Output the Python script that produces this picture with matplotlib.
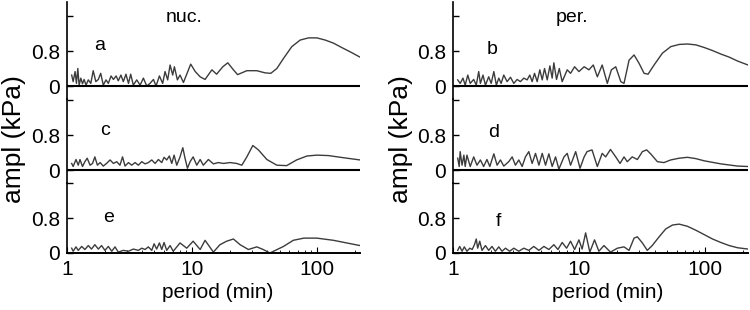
import numpy as np
import matplotlib
matplotlib.use("Agg")
import matplotlib.pyplot as plt
from matplotlib.ticker import LogLocator, NullFormatter, FixedLocator

plt.rcParams['font.family'] = ['Liberation Sans', 'DejaVu Sans']

# ---- data: period (min) and amplitude (kPa) ----
per_a = [1.09, 1.12, 1.16, 1.19, 1.22, 1.25, 1.29, 1.33, 1.37, 1.42, 1.48, 1.55, 1.62, 1.70,
         1.78, 1.86, 1.95, 2.05, 2.14, 2.25, 2.35, 2.47, 2.57, 2.70, 2.82, 2.96, 3.10, 3.23,
         3.39, 3.61, 3.84, 4.08, 4.34, 4.61, 4.91, 5.15, 5.48, 5.82, 6.08, 6.38, 6.67, 7.00,
         7.22, 7.63, 8.01, 8.53, 9.75, 10.6, 11.6, 12.7, 14.4, 15.7, 17.6, 19.3, 21.4, 23.1,
         27.4, 32.9, 38.4, 42.6, 47.6, 53.8, 62.7, 73.1, 85.3, 99.4, 116, 135, 157, 184, 220]
amp_a = [0.25, 0.10, 0.33, 0.06, 0.40, 0.02, 0.18, 0.05, 0.15, 0.02, 0.14, 0.06, 0.35, 0.10,
         0.15, 0.29, 0.02, 0.14, 0.06, 0.23, 0.15, 0.23, 0.12, 0.25, 0.10, 0.27, 0.06, 0.27,
         0.02, 0.14, 0.02, 0.18, 0.00, 0.06, 0.15, 0.00, 0.23, 0.06, 0.33, 0.14, 0.48, 0.25,
         0.44, 0.14, 0.25, 0.08, 0.50, 0.33, 0.21, 0.15, 0.37, 0.27, 0.44, 0.53, 0.37, 0.26,
         0.35, 0.35, 0.30, 0.29, 0.40, 0.63, 0.90, 1.05, 1.10, 1.10, 1.05, 0.98, 0.88, 0.78, 0.66]

per_c = [1.09, 1.12, 1.18, 1.23, 1.27, 1.33, 1.39, 1.45, 1.53, 1.60, 1.67, 1.75, 1.84, 1.95,
         2.07, 2.21, 2.35, 2.50, 2.65, 2.78, 2.91, 3.10, 3.29, 3.50, 3.72, 3.96, 4.21, 4.47,
         4.76, 5.06, 5.38, 5.72, 5.97, 6.27, 6.58, 6.88, 7.18, 7.54, 8.01, 8.43, 8.78, 9.18,
         9.64, 10.2, 10.9, 11.6, 12.3, 13.5, 14.8, 16.2, 17.8, 20.1, 22.7, 25.0, 27.4, 30.6,
         33.9, 39.6, 47.6, 57.0, 68.5, 82.8, 99.4, 123, 163, 220]
amp_c = [0.15, 0.08, 0.24, 0.11, 0.24, 0.08, 0.19, 0.27, 0.11, 0.15, 0.30, 0.11, 0.17, 0.09,
         0.15, 0.23, 0.15, 0.19, 0.11, 0.30, 0.09, 0.17, 0.11, 0.17, 0.11, 0.19, 0.14, 0.17,
         0.23, 0.15, 0.24, 0.17, 0.29, 0.23, 0.32, 0.15, 0.34, 0.11, 0.30, 0.51, 0.27, 0.04,
         0.19, 0.30, 0.11, 0.24, 0.11, 0.24, 0.14, 0.17, 0.15, 0.17, 0.15, 0.11, 0.30, 0.56,
         0.46, 0.24, 0.11, 0.10, 0.23, 0.32, 0.34, 0.33, 0.28, 0.23]

per_e = [1.09, 1.12, 1.18, 1.23, 1.31, 1.39, 1.48, 1.57, 1.67, 1.78, 1.89, 2.01, 2.14, 2.28,
         2.42, 2.57, 2.82, 3.10, 3.39, 3.72, 3.96, 4.21, 4.47, 4.76, 4.97, 5.21, 5.48, 5.72,
         5.97, 6.27, 6.67, 7.07, 8.01, 9.06, 10.2, 11.6, 12.7, 14.8, 16.7, 18.9, 21.4, 24.2,
         28.2, 32.9, 37.0, 41.9, 53.8, 64.4, 78.3, 99.4, 135, 172, 220]
amp_e = [0.11, 0.04, 0.14, 0.06, 0.15, 0.08, 0.17, 0.09, 0.19, 0.09, 0.17, 0.06, 0.15, 0.04,
         0.14, 0.02, 0.06, 0.04, 0.09, 0.06, 0.11, 0.08, 0.14, 0.06, 0.21, 0.09, 0.23, 0.08,
         0.24, 0.06, 0.17, 0.04, 0.23, 0.11, 0.27, 0.08, 0.29, 0.02, 0.19, 0.27, 0.32, 0.19,
         0.08, 0.14, 0.08, 0.00, 0.15, 0.29, 0.34, 0.34, 0.29, 0.23, 0.17]

per_b = [1.09, 1.14, 1.20, 1.25, 1.31, 1.37, 1.46, 1.53, 1.60, 1.65, 1.73, 1.81, 1.92, 2.01,
         2.11, 2.21, 2.31, 2.41, 2.53, 2.69, 2.86, 3.04, 3.23, 3.43, 3.65, 3.88, 4.07, 4.25,
         4.44, 4.66, 4.89, 5.11, 5.33, 5.60, 5.88, 6.13, 6.32, 6.64, 6.98, 7.36, 8.07, 8.58,
         9.24, 10.0, 11.0, 12.0, 13.0, 14.0, 15.3, 16.8, 18.1, 19.6, 21.5, 22.8, 25.0, 27.4,
         30.0, 32.9, 35.4, 39.5, 46.0, 53.6, 62.5, 72.8, 84.8, 98.8, 115, 134, 156, 182, 220]
amp_b = [0.14, 0.06, 0.18, 0.02, 0.25, 0.06, 0.15, 0.02, 0.33, 0.06, 0.25, 0.02, 0.21, 0.06,
         0.33, 0.02, 0.18, 0.06, 0.25, 0.10, 0.20, 0.06, 0.15, 0.10, 0.18, 0.14, 0.25, 0.10,
         0.29, 0.10, 0.37, 0.14, 0.40, 0.14, 0.46, 0.18, 0.53, 0.15, 0.40, 0.10, 0.37, 0.29,
         0.44, 0.33, 0.44, 0.37, 0.48, 0.21, 0.48, 0.06, 0.37, 0.44, 0.10, 0.06, 0.59, 0.71,
         0.52, 0.29, 0.27, 0.48, 0.75, 0.90, 0.95, 0.96, 0.94, 0.88, 0.81, 0.73, 0.66, 0.57, 0.48]

per_d = [1.09, 1.12, 1.14, 1.18, 1.22, 1.25, 1.29, 1.37, 1.46, 1.55, 1.65, 1.75, 1.86, 1.96,
         2.11, 2.24, 2.38, 2.53, 2.77, 2.95, 3.13, 3.33, 3.54, 3.76, 4.00, 4.25, 4.52, 4.81,
         5.11, 5.43, 5.77, 6.13, 6.52, 6.93, 7.61, 8.07, 8.58, 9.42, 10.2, 11.0, 11.6, 12.7,
         14.0, 15.3, 16.3, 17.8, 19.6, 21.2, 22.8, 24.2, 26.5, 29.1, 31.9, 34.5, 37.1, 42.0,
         47.3, 53.6, 62.5, 72.8, 84.8, 98.8, 134, 182, 220]
amp_d = [0.27, 0.08, 0.42, 0.11, 0.34, 0.08, 0.34, 0.08, 0.30, 0.11, 0.23, 0.08, 0.24, 0.08,
         0.37, 0.11, 0.23, 0.09, 0.19, 0.30, 0.11, 0.23, 0.08, 0.30, 0.42, 0.15, 0.38, 0.11,
         0.38, 0.11, 0.37, 0.08, 0.30, 0.02, 0.30, 0.38, 0.11, 0.42, 0.04, 0.30, 0.42, 0.46,
         0.08, 0.38, 0.30, 0.47, 0.30, 0.15, 0.30, 0.19, 0.30, 0.24, 0.42, 0.46, 0.37, 0.19,
         0.17, 0.23, 0.27, 0.29, 0.26, 0.21, 0.14, 0.09, 0.08]

per_f = [1.09, 1.13, 1.18, 1.23, 1.29, 1.36, 1.42, 1.48, 1.53, 1.57, 1.63, 1.70, 1.81, 1.92,
         2.04, 2.17, 2.31, 2.45, 2.61, 2.82, 3.04, 3.33, 3.65, 4.00, 4.38, 4.81, 5.27, 5.77,
         6.32, 6.81, 7.36, 7.98, 8.58, 9.24, 10.0, 10.6, 11.3, 12.2, 13.3, 14.4, 15.8, 17.8,
         20.2, 22.8, 25.0, 27.4, 29.1, 31.9, 34.9, 38.2, 43.3, 48.9, 55.4, 62.5, 72.8, 84.8,
         98.8, 115, 134, 156, 182, 220]
amp_f = [0.06, 0.15, 0.04, 0.14, 0.04, 0.11, 0.08, 0.19, 0.32, 0.11, 0.27, 0.06, 0.17, 0.06,
         0.15, 0.04, 0.14, 0.04, 0.11, 0.04, 0.11, 0.04, 0.11, 0.06, 0.15, 0.06, 0.15, 0.08,
         0.19, 0.08, 0.24, 0.11, 0.27, 0.08, 0.30, 0.09, 0.46, 0.02, 0.30, 0.04, 0.17, 0.02,
         0.11, 0.14, 0.06, 0.34, 0.37, 0.23, 0.06, 0.17, 0.37, 0.55, 0.64, 0.66, 0.61, 0.52,
         0.42, 0.32, 0.24, 0.17, 0.12, 0.09]

panel_letters = ['a', 'b', 'c', 'd', 'e', 'f']
col_titles = ['nuc.', 'per.']

W, H = 750, 310
fig = plt.figure(figsize=(7.5, 3.1), dpi=100)


def px_axes(x0, x1, y0, y1):
    # axes given in pixel coords (y from top)
    return fig.add_axes([x0 / W, 1 - y1 / H, (x1 - x0) / W, (y1 - y0) / H])


line_col = '#3c3c3c'
cols = [(67, 360), (453, 748)]
rows = [(2, 99, -0.297, 1.92), (99, 183, -0.297, 1.623), (183, 253, 0.0, 1.6)]
series = [[(per_a, amp_a), (per_b, amp_b)],
          [(per_c, amp_c), (per_d, amp_d)],
          [(per_e, amp_e), (per_f, amp_f)]]
letter_pos = [[(100, 45), (492, 50)], [(105, 130), (494, 133)], [(109, 218), (498, 222)]]

for r, (y0, y1, lo, hi) in enumerate(rows):
    for c, (x0, x1) in enumerate(cols):
        ax = px_axes(x0, x1, y0, y1)
        xs, ys = series[r][c]
        ax.plot(xs, ys, color=line_col, lw=1.0)
        ax.set_xscale('log')
        ax.set_xlim(1, 220)
        ax.set_ylim(lo, hi)
        ax.patch.set_alpha(0)
        for s in ['top', 'right']:
            ax.spines[s].set_visible(False)
        ax.spines['left'].set_linewidth(1.2)
        ax.yaxis.set_major_locator(FixedLocator([0, 0.8, 1.6]))
        ax.set_yticklabels(['0', '0.8', ''])
        ax.tick_params(axis='y', direction='in', length=4, width=1, labelsize=15, pad=5)
        if r < 2:
            ax.spines['bottom'].set_visible(False)
            ax.axhline(0, color='black', lw=1.5)
            ax.tick_params(axis='x', which='both', bottom=False, labelbottom=False)
        else:
            ax.spines['bottom'].set_linewidth(1.4)
            ax.xaxis.set_major_locator(LogLocator(base=10))
            ax.xaxis.set_minor_locator(LogLocator(base=10, subs=np.arange(2, 10)))
            ax.xaxis.set_minor_formatter(NullFormatter())
            ax.set_xticks([1, 10, 100])
            ax.set_xticklabels(['1', '10', '100'])
            ax.tick_params(axis='x', which='major', direction='in', length=4, labelsize=15, pad=5)
            ax.tick_params(axis='x', which='minor', direction='in', length=2.5)
        lx, ly = letter_pos[r][c]
        fig.text(lx / W, 1 - ly / H, panel_letters[2 * r + c], fontsize=14,
                 ha='center', va='center')

fig.text(184 / W, 1 - 17 / H, col_titles[0], fontsize=14, ha='center', va='center')
fig.text(572 / W, 1 - 17 / H, col_titles[1], fontsize=14, ha='center', va='center')
fig.text(14 / W, 1 - 139 / H, 'ampl (kPa)', fontsize=19, rotation=90, ha='center', va='center')
fig.text(401 / W, 1 - 139 / H, 'ampl (kPa)', fontsize=19, rotation=90, ha='center', va='center')
fig.text(218 / W, 1 - 293 / H, 'period (min)', fontsize=15, ha='center', va='center')
fig.text(608 / W, 1 - 293 / H, 'period (min)', fontsize=15, ha='center', va='center')

fig.savefig('out.png', dpi=100)
